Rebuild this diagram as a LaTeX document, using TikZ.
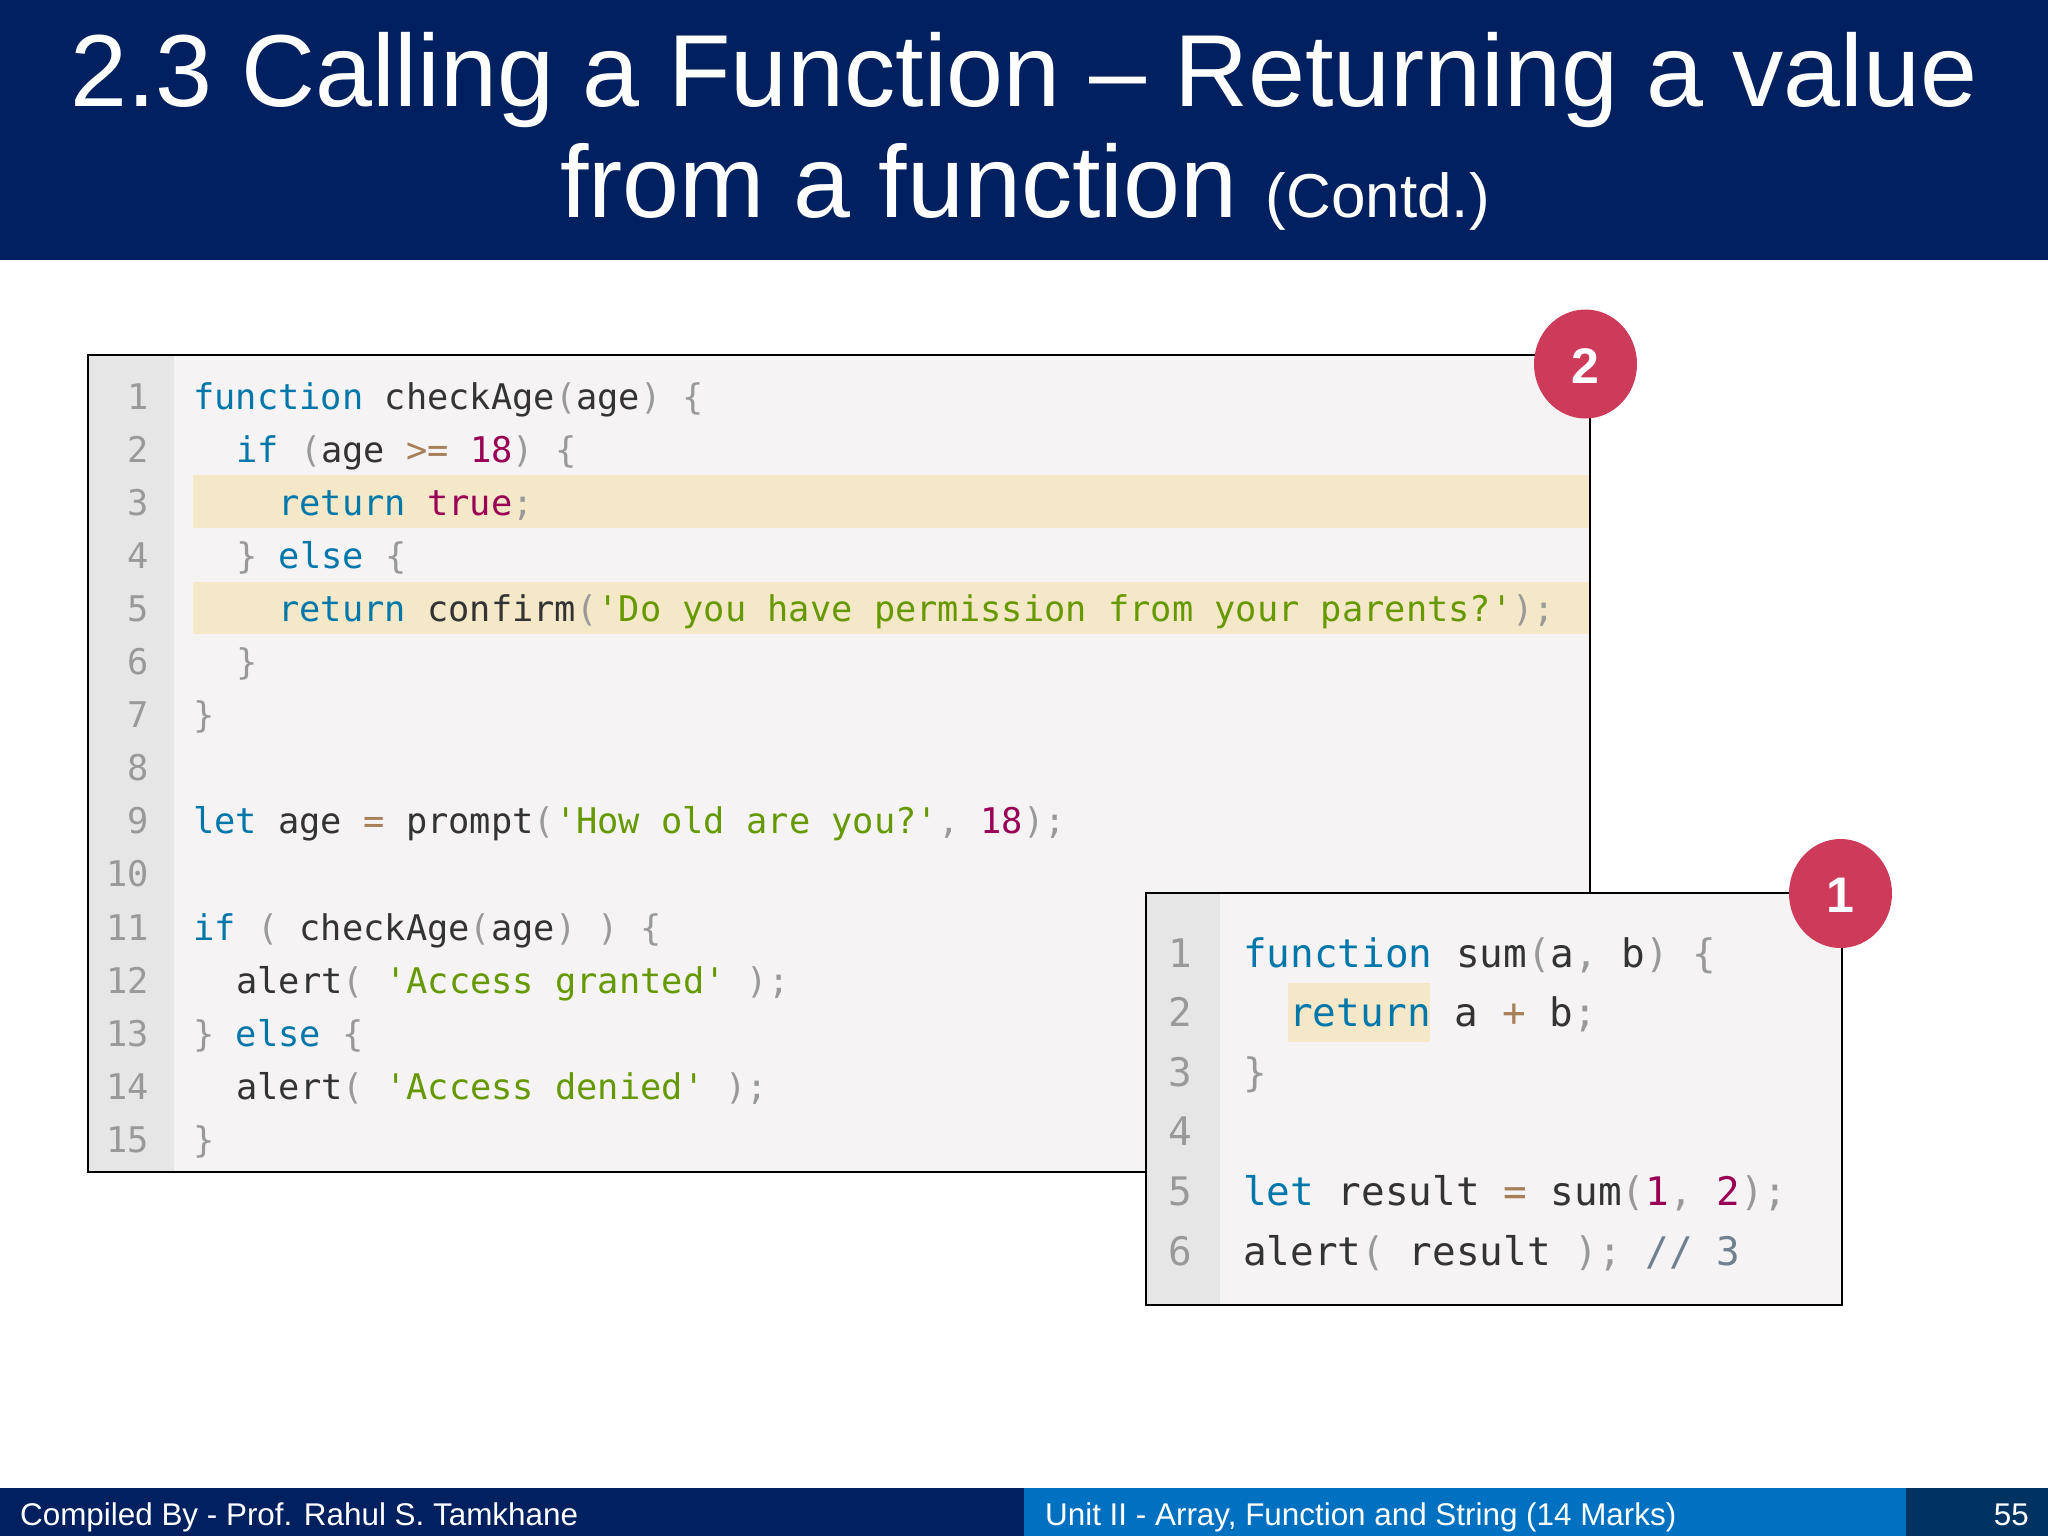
\documentclass[tikz,border=0pt]{standalone}
\usepackage{fontspec}
\usetikzlibrary{shapes.geometric}
\setmainfont{Liberation Sans}
\newfontfamily\codeL{DejaVu Sans Mono}[Scale=1.0]
\definecolor{navy}{HTML}{002060}
\definecolor{footblue}{HTML}{0070C0}
\definecolor{footdark}{HTML}{003262}
\definecolor{panelbg}{HTML}{F5F3F3}
\definecolor{gutterbg}{HTML}{E6E6E6}
\definecolor{hl}{HTML}{F5E8C8}
\definecolor{badge}{HTML}{CE3A5A}
\definecolor{kw}{HTML}{0077AA}
\definecolor{pn}{HTML}{999999}
\definecolor{nm}{HTML}{990055}
\definecolor{st}{HTML}{669900}
\definecolor{op}{HTML}{A67F59}
\definecolor{cm}{HTML}{708090}
\definecolor{tx}{HTML}{333333}
\newcommand{\K}[1]{\textcolor{kw}{#1}}
\newcommand{\Pn}[1]{\textcolor{pn}{#1}}
\newcommand{\N}[1]{\textcolor{nm}{#1}}
\newcommand{\Sg}[1]{\textcolor{st}{#1}}
\newcommand{\Op}[1]{\textcolor{op}{#1}}
\newcommand{\Cm}[1]{\textcolor{cm}{#1}}
\tikzset{
  x=1pt,y=-1pt,
  titletext/.style={anchor=base,inner sep=0pt,text=white,font=\fontsize{102.4}{102}\selectfont},
  foottext/.style={anchor=base west,inner sep=0pt,text=white,font=\fontsize{31.4}{33}\selectfont},
  codeA/.style={anchor=base west,inner sep=0pt,text=tx,font=\codeL\fontsize{35.35}{36}\selectfont},
  codeB/.style={anchor=base west,inner sep=0pt,text=tx,font=\codeL\fontsize{39.3}{40}\selectfont},
  lnA/.style={anchor=base east,inner sep=0pt,text=pn,font=\codeL\fontsize{35.35}{36}\selectfont},
  lnB/.style={anchor=base east,inner sep=0pt,text=pn,font=\codeL\fontsize{39.3}{40}\selectfont},
  badgeshape/.style={ellipse,fill=badge,draw=none,inner sep=0pt,minimum width=103pt,minimum height=109pt},
  badgetext/.style={inner sep=0pt,text=white,font=\bfseries\fontsize{50}{50}\selectfont},
}
\begin{document}
\begin{tikzpicture}
\useasboundingbox (0,0) rectangle (2048,1536);
\fill[white] (0,0) rectangle (2048,1536);
% header
\fill[navy] (0,0) rectangle (2048,260);
\node[titletext] (t1) at (1024,107) {2.3 Calling a Function – Returning a value};
\node[titletext] (t2) at (1025,217) {from a function {\fontsize{62}{62}\selectfont (Contd.)}};
% footer
\fill[navy] (0,1488) rectangle (1024,1536);
\fill[footblue] (1024,1488) rectangle (1906,1536);
\fill[footdark] (1906,1488) rectangle (2048,1536);
\node[foottext] (f1) at (20,1525) {Compiled By - Prof. Rahul S. Tamkhane};
\node[foottext] (f2) at (1045,1525) {Unit II - Array, Function and String (14 Marks)};
\node[foottext,anchor=base east] (f3) at (2029,1525) {55};
% left panel
\fill[panelbg] (88,355) rectangle (1590,1172);
\fill[gutterbg] (88,355) rectangle (174,1172);
\fill[hl] (193,475) rectangle (1590,528);
\fill[hl] (193,582) rectangle (1590,634);
\draw[black,line width=1.8pt] (88,355) rectangle (1590,1172);
\foreach \n in {1,...,15}{
  \pgfmathsetmacro{\yy}{409+53.1*(\n-1)}
  \node[lnA] (la\n) at (149,\yy) {\n};
}
\node[codeA] (a1) at (193,409) {\K{function} checkAge\Pn{(}age\Pn{)} \Pn{\{}};
\node[codeA] (a2) at (236,462.1) {\K{if} \Pn{(}age \Op{>=} \N{18}\Pn{)} \Pn{\{}};
\node[codeA] (a3) at (278,515.2) {\K{return} \N{true}\Pn{;}};
\node[codeA] (a4) at (236,568.3) {\Pn{\}} \K{else} \Pn{\{}};
\node[codeA] (a5) at (278,621.4) {\K{return} confirm\Pn{(}\Sg{'Do~you~have~permission~from~your~parents?'}\Pn{);}};
\node[codeA] (a6) at (236,674.5) {\Pn{\}}};
\node[codeA] (a7) at (193,727.6) {\Pn{\}}};
\node[codeA] (a9) at (193,833.8) {\K{let} age \Op{=} prompt\Pn{(}\Sg{'How~old~are~you?'}\Pn{,} \N{18}\Pn{);}};
\node[codeA] (a11) at (193,940) {\K{if} \Pn{(} checkAge\Pn{(}age\Pn{)} \Pn{)} \Pn{\{}};
\node[codeA] (a12) at (236,993.1) {alert\Pn{(} \Sg{'Access~granted'} \Pn{);}};
\node[codeA] (a13) at (193,1046.2) {\Pn{\}} \K{else} \Pn{\{}};
\node[codeA] (a14) at (236,1099.3) {alert\Pn{(} \Sg{'Access~denied'} \Pn{);}};
\node[codeA] (a15) at (193,1152.4) {\Pn{\}}};
\node[badgeshape] (b2) at (1585.5,364) {};
\node[badgetext] (b2t) at (1585.5,366) {2};
% right panel
\fill[panelbg] (1146,893) rectangle (1842,1305);
\fill[gutterbg] (1146,893) rectangle (1220,1305);
\fill[hl] (1288,983) rectangle (1430,1042);
\draw[black,line width=1.8pt] (1146,893) rectangle (1842,1305);
\foreach \n in {1,...,6}{
  \pgfmathsetmacro{\yy}{967+59.6*(\n-1)}
  \node[lnB] (lb\n) at (1192,\yy) {\n};
}
\node[codeB] (c1) at (1243,967) {\K{function} sum\Pn{(}a\Pn{,} b\Pn{)} \Pn{\{}};
\node[codeB] (c2) at (1289,1026.6) {\K{return} a \Op{+} b\Pn{;}};
\node[codeB] (c3) at (1243,1086.2) {\Pn{\}}};
\node[codeB] (c5) at (1243,1205.4) {\K{let} result \Op{=} sum\Pn{(}\N{1}\Pn{,} \N{2}\Pn{);}};
\node[codeB] (c6) at (1243,1265) {alert\Pn{(} result \Pn{);} \Cm{//~3}};
\node[badgeshape] (b1) at (1840.5,893.5) {};
\node[badgetext] (b1t) at (1840.5,895) {1};
\end{tikzpicture}
\end{document}
